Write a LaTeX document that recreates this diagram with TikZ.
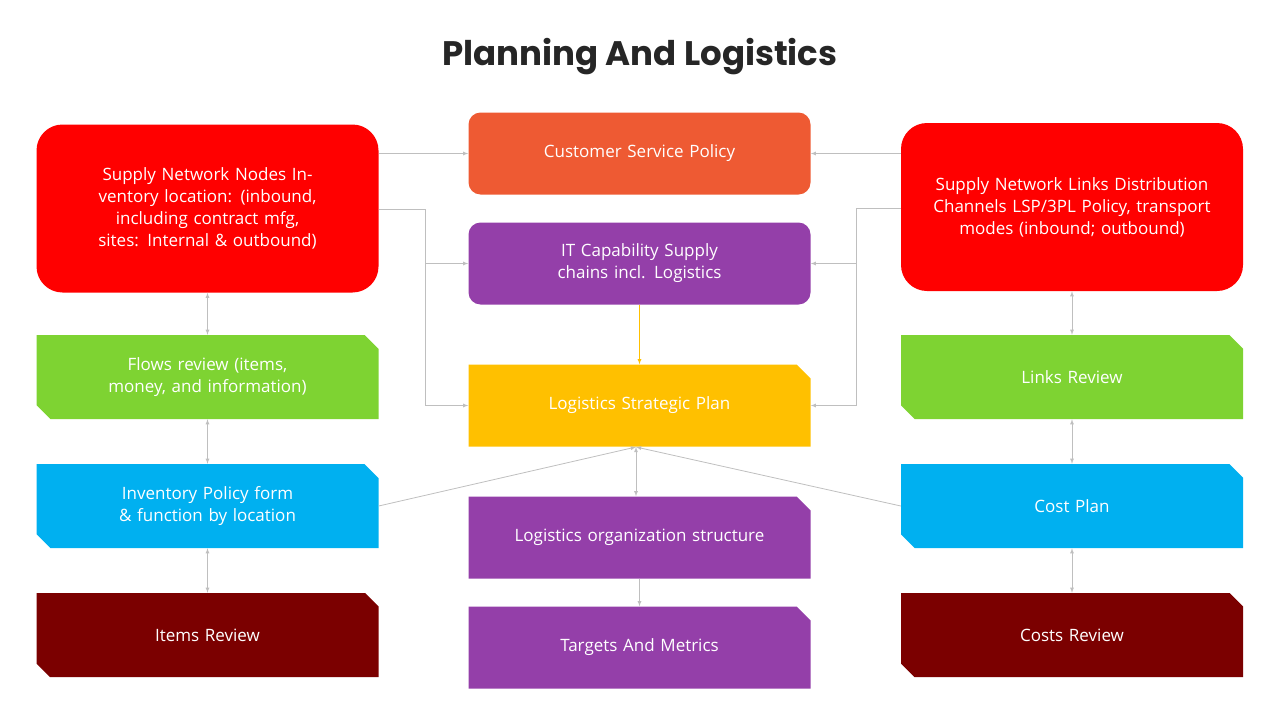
\documentclass[tikz,border=0pt]{standalone}
\usepackage{fontspec}
\setmainfont{Open Sans}
\newfontfamily\titlefont{Poppins}
\usetikzlibrary{shapes.misc}
\begin{document}
\begin{tikzpicture}[x=1pt,y=-1pt]
% Styles
\tikzstyle{boite}=[text=white,align=center,text width=310pt,minimum width=342pt,minimum height=82pt,inner sep=0pt,font=\fontsize{17}{22}\selectfont]
\tikzstyle{ronde}=[boite,rectangle,rounded corners=12pt]
\tikzstyle{grande}=[boite,rectangle,rounded corners=26pt,minimum height=168pt,text width=290pt]
\tikzstyle{coupee}=[boite,chamfered rectangle,chamfered rectangle corners={north east,south west},chamfered rectangle xsep=7pt,chamfered rectangle ysep=7pt,minimum height=84pt]
\tikzstyle{coin}=[boite,chamfered rectangle,chamfered rectangle corners=north east,chamfered rectangle xsep=7pt,chamfered rectangle ysep=7pt]
\tikzstyle{fleche}=[-latex,draw=black!25,line width=0.8pt]
\tikzstyle{double}=[latex-latex,draw=black!25,line width=0.8pt]
\definecolor{rouge}{HTML}{FF0000}
\definecolor{orange}{HTML}{EE5A33}
\definecolor{violet}{HTML}{943FA9}
\definecolor{jaune}{HTML}{FFC000}
\definecolor{vert}{HTML}{7ED332}
\definecolor{bleu}{HTML}{00B0F0}
\definecolor{bordeaux}{HTML}{7B0000}
\useasboundingbox (0,0) rectangle (1280,720);
% Titre
\node[font=\titlefont\bfseries\fontsize{34}{40}\selectfont,text=black!85] (T) at (640,57) {Planning And Logistics};
% Noeuds gauche
\node[grande,fill=rouge] (G) at (207.5,208.5) {Supply Network Nodes Inventory location: (inbound, including contract mfg, sites: Internal \& outbound)};
\node[coupee,fill=vert] (Ga) at (207.5,377) {Flows review (items, money, and information)};
\node[coupee,fill=bleu] (Gb) at (207.5,506) {Inventory Policy form \& function by location};
\node[coupee,fill=bordeaux] (Gc) at (207.5,635) {Items Review};
% Noeuds centre
\node[ronde,fill=orange] (C) at (639.5,153.5) {Customer Service Policy};
\node[ronde,fill=violet] (Ca) at (639.5,263.5) {IT Capability Supply chains incl. Logistics};
\node[coin,fill=jaune] (Cb) at (639.5,405.5) {Logistics Strategic Plan};
\node[coin,fill=violet] (Cc) at (639.5,537.5) {Logistics organization structure};
\node[coin,fill=violet] (Cd) at (639.5,647.5) {Targets And Metrics};
% Noeuds droite
\node[grande,fill=rouge] (D) at (1072,207) {Supply Network Links Distribution Channels LSP/3PL Policy, transport modes (inbound; outbound)};
\node[coupee,fill=vert] (Da) at (1072,377) {Links Review};
\node[coupee,fill=bleu] (Db) at (1072,506) {Cost Plan};
\node[coupee,fill=bordeaux] (Dc) at (1072,635) {Costs Review};
% Arcs
\coordinate (Gx) at (425,209);
\coordinate (Dx) at (856,208);
\draw[fleche] (G.east |- C) -- (C.west);
\draw[fleche] (G.east |- Gx) -- (Gx) |- (Cb.west);
\draw[fleche] (Gx |- Ca) -- (Ca.west);
\draw[fleche] (D.west |- C) -- (C.east);
\draw[fleche] (D.west |- Dx) -- (Dx) |- (Cb.east);
\draw[fleche] (Dx |- Ca) -- (Ca.east);
\draw[-latex,draw=jaune,line width=0.8pt] (Ca.south) -- (Cb.north);
\draw[double] (G.south) -- (Ga.north);
\draw[double] (Ga.south) -- (Gb.north);
\draw[double] (Gb.south) -- (Gc.north);
\draw[double] (D.south) -- (Da.north);
\draw[double] (Da.south) -- (Db.north);
\draw[double] (Db.south) -- (Dc.north);
\coordinate (Cy) at (636,447);
\draw[fleche] (Gb.east) -- (Cy);
\draw[fleche] (Db.west) -- (Cy);
\draw[double] (Cy) -- (Cy |- Cc.north);
\draw[fleche] (Cc.south) -- (Cd.north);
\end{tikzpicture}
\end{document}
